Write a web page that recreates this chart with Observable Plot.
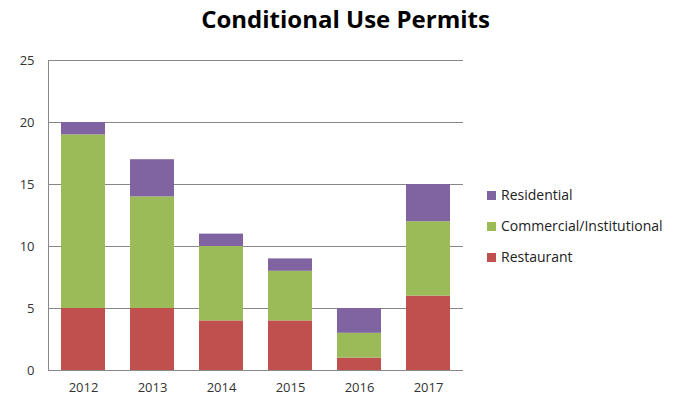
<!DOCTYPE html>
<html><head><meta charset="utf-8">
<script src="https://cdn.jsdelivr.net/npm/d3@7"></script>
<script src="https://cdn.jsdelivr.net/npm/@observablehq/plot@0.6"></script>
<style>
body{margin:0;background:#fff;font-family:"Open Sans",sans-serif;}
#wrap{position:relative;width:683px;height:400px;}
#title{position:absolute;top:2px;left:4px;width:683px;text-align:center;font-weight:bold;font-size:24px;color:#000;}
#chart{position:absolute;top:40px;left:0;}
#legend{position:absolute;left:487px;top:185px;font-size:14px;color:#222;}
.li{height:31px;display:flex;align-items:flex-start;}
.sw{width:9px;height:9px;margin-right:5px;margin-top:6px;}
</style></head>
<body><div id="wrap"><div id="title">Conditional Use Permits</div><div id="chart"></div><div id="legend"></div></div>
<script>
const years = ["2012","2013","2014","2015","2016","2017"];
const series = ["Restaurant","Commercial/Institutional","Residential"];
const restaurant = [5,5,4,4,1,6];
const commercial = [14,9,6,4,2,6];
const residential = [1,3,1,1,2,3];
const colors = ["#C0504D","#9BBB59","#8064A2"];
const yTicks = [0,5,10,15,20,25];

const vals = [restaurant, commercial, residential];
const data = [];
years.forEach((y,i)=>series.forEach((s,j)=>data.push({year:y, series:s, value:vals[j][i]})));

const chart = Plot.plot({
  width:683, height:360,
  marginLeft:48, marginRight:220, marginTop:20, marginBottom:30,
  style:{fontFamily:"'Open Sans', sans-serif", fontSize:"13px", color:"#333"},
  x:{domain:years, paddingInner:0.36, paddingOuter:0.18, label:null, tickSize:0, tickPadding:12},
  y:{domain:[0,25], ticks:yTicks, label:null, tickSize:0, tickPadding:14},
  color:{domain:series, range:colors},
  marks:[
    Plot.ruleY(yTicks,{stroke:"#888",strokeWidth:1}),
    Plot.barY(data, Plot.stackY({order:null},{x:"year", y:"value", fill:"series"})),
    Plot.frame({anchor:"left", stroke:"#888"}),
    Plot.axisY({ticks:yTicks, tickSize:0, tickPadding:14, label:null}),
    Plot.axisX({tickSize:0, tickPadding:12, label:null})
  ]
});
document.getElementById("chart").appendChild(chart);

const leg = document.getElementById("legend");
[2,1,0].forEach(j=>{
  const d=document.createElement("div");d.className="li";
  d.innerHTML=`<div class="sw" style="background:${colors[j]}"></div><span>${series[j]}</span>`;
  leg.appendChild(d);
});
</script></body></html>
